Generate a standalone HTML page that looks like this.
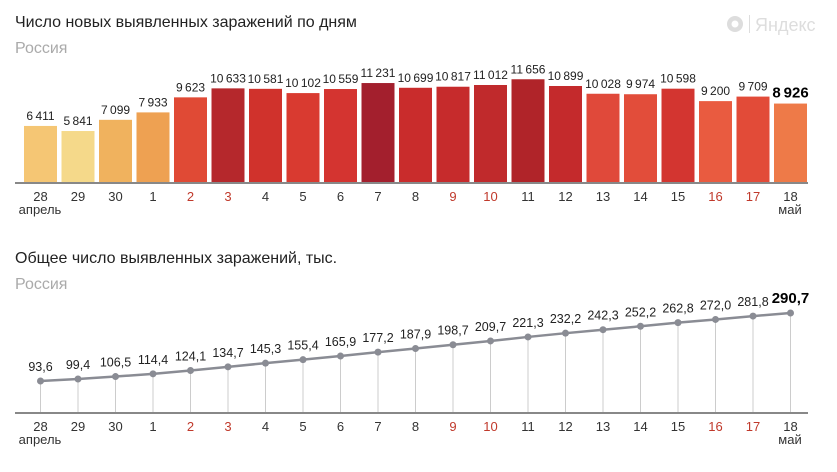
<!DOCTYPE html>
<html><head><meta charset="utf-8"><style>
body{margin:0;background:#fff;width:837px;height:467px;overflow:hidden;font-family:"Liberation Sans",sans-serif}
</style></head><body>
<svg width="837" height="467" xmlns="http://www.w3.org/2000/svg" font-family="Liberation Sans, sans-serif">
<text x="15" y="27" font-size="16" fill="#222">Число новых выявленных заражений по дням</text>
<text x="15" y="53" font-size="16" fill="#aaa">Россия</text>
<text x="15" y="263" font-size="16" fill="#222">Общее число выявленных заражений, тыс.</text>
<text x="15" y="289" font-size="16" fill="#aaa">Россия</text>
<circle cx="735" cy="24" r="8" fill="#ddd"/><circle cx="735" cy="24" r="3.5" fill="#fff"/>
<rect x="749" y="15" width="1" height="18" fill="#ddd"/>
<text x="755" y="31" font-size="18" fill="#ddd">Яндекс</text>
<g id="bars"></g>
<line x1="15" y1="183" x2="808" y2="183" stroke="#888" stroke-width="2"/>
<line x1="15" y1="413" x2="808" y2="413" stroke="#888" stroke-width="2"/>
<g id="line"></g>
</svg>
<script>
(function(){
var d=[6411,5841,7099,7933,9623,10633,10581,10102,10559,11231,10699,10817,11012,11656,10899,10028,9974,10598,9200,9709,8926];
var c=["#f5c674","#f5d98a","#f0b25e","#eea152","#e04a35","#b5282c","#d0322c","#d93a30","#d43430","#a31f2d","#c92c2c","#c62b2c","#c02a2c","#b02429","#c42a2c","#e0493a","#e24d3a","#d33530","#e95b40","#e24b38","#ee7a48"];
var t=[93.6,99.4,106.5,114.4,124.1,134.7,145.3,155.4,165.9,177.2,187.9,198.7,209.7,221.3,232.2,242.3,252.2,262.8,272.0,281.8,290.7];
var days=["28","29","30","1","2","3","4","5","6","7","8","9","10","11","12","13","14","15","16","17","18"];
var red={4:1,5:1,11:1,12:1,18:1,19:1};
var ns="http://www.w3.org/2000/svg";
function el(n,a,txt){var e=document.createElementNS(ns,n);for(var k in a)e.setAttribute(k,a[k]);if(txt!=null)e.textContent=txt;return e;}
var B=document.getElementById("bars"),L=document.getElementById("line");
function fmt(v){var s=String(v);return s.length>3?s.slice(0,-3)+"\u2009"+s.slice(-3):s;}
var pts=[];
for(var i=0;i<21;i++){
 var cx=40.5+i*37.5,h=d[i]*0.0089,by=183-h;
 B.appendChild(el("rect",{x:cx-16.5,y:by,width:33,height:h,fill:c[i]}));
 var last=i==20;
 B.appendChild(el("text",{x:cx,y:by-6,"font-size":last?15:12,"font-weight":last?"bold":"normal","text-anchor":"middle",fill:last?"#000":"#222"},fmt(d[i])));
 var col=red[i]?"#c0392b":"#333";
 B.appendChild(el("text",{x:cx,y:201,"font-size":13,"text-anchor":"middle",fill:col},days[i]));
 L.appendChild(el("text",{x:cx,y:431,"font-size":13,"text-anchor":"middle",fill:col},days[i]));
 var y=381-(t[i]-93.6)*0.345;pts.push(cx+","+y);
 L.appendChild(el("line",{x1:cx,y1:y,x2:cx,y2:412,stroke:"#ccc","stroke-width":1}));
 L.appendChild(el("text",{x:cx,y:y-10,"font-size":last?15:12.5,"font-weight":last?"bold":"normal","text-anchor":"middle",fill:last?"#000":"#222"},t[i].toFixed(1).replace(".",",")));
}
L.appendChild(el("polyline",{points:pts.join(" "),fill:"none",stroke:"#8a8c94","stroke-width":2.5}));
for(var i=0;i<21;i++){var p=pts[i].split(",");L.appendChild(el("circle",{cx:p[0],cy:p[1],r:3.5,fill:"#8a8c94"}));}
B.appendChild(el("text",{x:40,y:214,"font-size":13,"text-anchor":"middle",fill:"#333"},"апрель"));
B.appendChild(el("text",{x:790,y:214,"font-size":13,"text-anchor":"middle",fill:"#333"},"май"));
L.appendChild(el("text",{x:40,y:444,"font-size":13,"text-anchor":"middle",fill:"#333"},"апрель"));
L.appendChild(el("text",{x:790,y:444,"font-size":13,"text-anchor":"middle",fill:"#333"},"май"));
})();
</script>
</body></html>
